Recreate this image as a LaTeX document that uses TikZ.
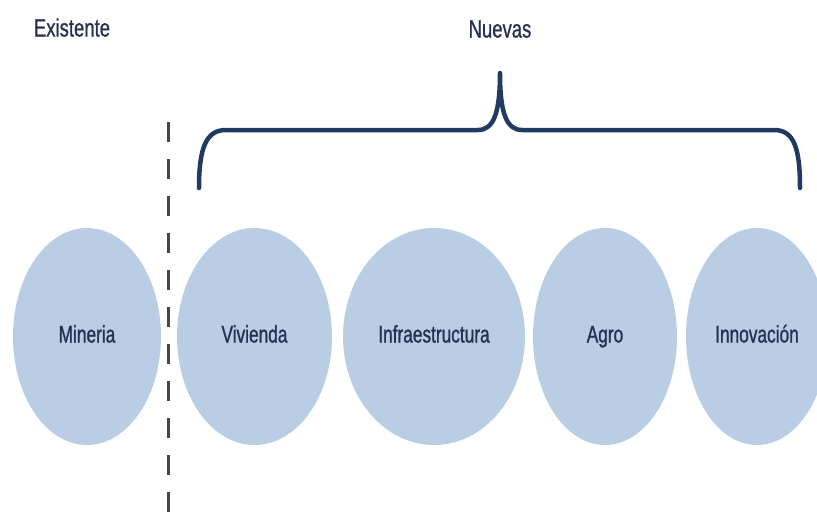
\documentclass[tikz,border=0pt]{standalone}
\usepackage{fontspec}
\usetikzlibrary{shapes.geometric}
\newfontfamily\narrowfont[FakeStretch=0.72,FakeBold=1]{Liberation Sans}
\newfontfamily\headfont[FakeStretch=0.74,FakeBold=0.8]{Liberation Sans}
\definecolor{bubble}{RGB}{185,205,229}
\definecolor{bracecol}{RGB}{33,58,100}
\definecolor{txtcol}{RGB}{36,50,80}
\definecolor{dashcol}{RGB}{70,70,70}
\tikzset{
  bubble/.style={ellipse, fill=bubble, draw=none, inner sep=0pt, minimum height=217pt,
    font=\narrowfont\fontsize{24}{24}\selectfont, text=txtcol, text height=17pt, text depth=5pt},
  heading/.style={font=\headfont\fontsize{25}{25}\selectfont, text=txtcol, inner sep=0pt,
    text height=18pt, text depth=5pt},
  bracestyle/.style={draw=bracecol, line width=4.5pt, line cap=round, line join=round},
  divider/.style={draw=dashcol, line width=3pt, dash pattern=on 20pt off 17pt}
}
\begin{document}
\begin{tikzpicture}[x=1pt,y=-1pt]
\useasboundingbox (0,0) rectangle (817,512);
\clip (0,0) rectangle (817,512);
\fill[white] (0,0) rectangle (817,512);
\node[heading] (existente) at (72,30) {Existente};
\node[heading] (nuevas) at (500,31) {Nuevas};
\node[bubble, minimum width=148pt] (mineria) at (87,336.5) {Mineria};
\node[bubble, minimum width=155pt] (vivienda) at (254.5,336.5) {Vivienda};
\node[bubble, minimum width=182pt] (infra) at (434,336.5) {Infraestructura};
\node[bubble, minimum width=144pt] (agro) at (605,336.5) {Agro};
\node[bubble, minimum width=142pt] (innov) at (757,336.5) {Innovación};
\coordinate (dtop) at (168,122);
\coordinate (dbot) at (168,515);
\draw[divider] (dtop) -- (dbot);
\coordinate (bl) at (199,188);
\coordinate (bt) at (500,73);
\coordinate (br) at (800,188);
\draw[bracestyle] (bl) .. controls (199,148) and (206,130) .. (226,130) -- (478,130)
  .. controls (494,130) and (500,112) .. (bt)
  .. controls (500,112) and (506,130) .. (522,130) -- (774,130)
  .. controls (794,130) and (800,148) .. (br);
\end{tikzpicture}
\end{document}
